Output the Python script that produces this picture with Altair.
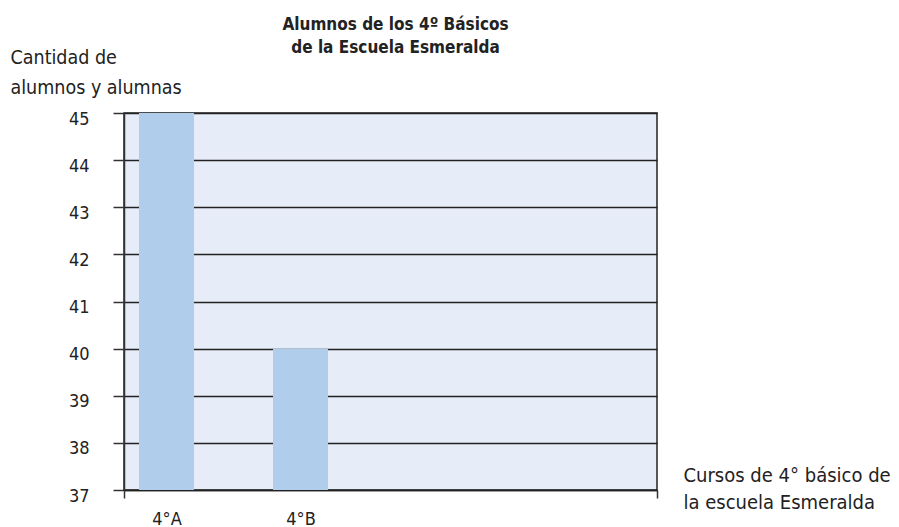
import altair as alt
import pandas as pd

cursos = ["4°A", "4°B"]
alumnos = [45, 40]
posicion = [1, 2]
base = [37, 37]
y_ticks = [37, 38, 39, 40, 41, 42, 43, 44, 45]
x_domain = [0.683, 4.66]

df = pd.DataFrame({"curso": cursos, "alumnos": alumnos, "pos": posicion, "base": base})

FONT = "DejaVu Sans Condensed"
label_expr = " : ".join(
    [f"datum.value == {p} ? '{c}'" for p, c in zip(posicion, cursos)]
) + " : ''"

bars = alt.Chart(df).mark_bar(color="#B0CDEB", size=55).encode(
    x=alt.X(
        "pos:Q",
        scale=alt.Scale(domain=x_domain, nice=False, zero=False, padding=0),
        axis=alt.Axis(
            values=[x_domain[0]] + posicion + [x_domain[1]],
            labelExpr=label_expr,
            title=["Cursos de 4° básico de", "la escuela Esmeralda"],
            titleFont=FONT,
            titleFontSize=20,
            titleFontWeight="normal",
            titleColor="#222",
            titleAlign="left",
            titleBaseline="top",
            titleAnchor="start",
            titleX=559,
            titleY=-25,
            titleLineHeight=27,
            labelFont=FONT,
            labelFontSize=18,
            labelColor="#222",
            labelPadding=12,
            tickSize=8,
            tickColor="#333",
            tickWidth=1.5,
            tickOpacity={"condition": {"test": f"datum.value > {x_domain[0]} && datum.value < {x_domain[1]}", "value": 0}, "value": 1},
            domainColor="#222",
            domainWidth=1.5,
            grid=False,
        ),
    ),
    y=alt.Y(
        "alumnos:Q",
        scale=alt.Scale(domain=[y_ticks[0], y_ticks[-1]], nice=False, zero=False, padding=0),
        axis=alt.Axis(
            values=y_ticks,
            title=["Cantidad de", "alumnos y alumnas"],
            titleFont=FONT,
            titleFontSize=19.5,
            titleFontWeight="normal",
            titleColor="#222",
            titleAngle=0,
            titleAlign="left",
            titleBaseline="top",
            titleX=-114,
            titleY=-65,
            titleLineHeight=30,
            labelFont=FONT,
            labelFontSize=18,
            labelColor="#222",
            labelPadding=24,
            labelOffset=6,
            tickSize=11,
            tickColor="#333",
            tickWidth=1.5,
            domainColor="#333",
            domainWidth=1.5,
            grid=True,
            gridColor="#222",
            gridWidth=1.3,
        ),
    ),
    y2="base:Q",
)

chart = bars.properties(
    width=533,
    height=377,
    padding={"left": 116, "top": 105, "right": 234, "bottom": 37},
    autosize=alt.AutoSizeParams(type="none"),
    background="white",
    title=alt.TitleParams(
        text=["Alumnos de los 4º Básicos", "de la Escuela Esmeralda"],
        font=FONT,
        fontSize=17,
        fontWeight="bold",
        color="#222",
        anchor="middle",
        frame="group",
        dx=5,
        offset=-10,
        lineHeight=23,
    ),
).configure_view(
    fill="#E6EDF8",
    stroke="#222",
    strokeWidth=1.5,
)

chart.save("out.html", embed_options={"renderer": "svg", "actions": False})
